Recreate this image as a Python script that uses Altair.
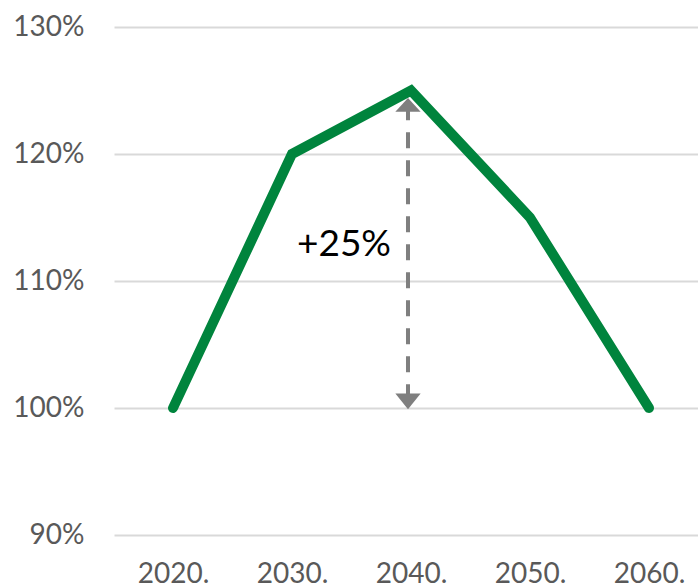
import altair as alt
import pandas as pd

years = [2020, 2030, 2040, 2050, 2060]
values = [100, 120, 125, 115, 100]
y_ticks = [90, 100, 110, 120, 130]

arrow_year = 2040
arrow_low = 99.9
arrow_high = 124.4
label_text = "+25%"
label_value = 112.8

FONT = "Lato"
GRAY = "#7f7f7f"
LABEL_COLOR = "#595959"

line_df = pd.DataFrame({"year": years, "value": values})

x_scale = alt.Scale(domain=[2015.04, 2064.12], nice=False, zero=False)
y_scale = alt.Scale(domain=[90, 130], nice=False, zero=False)

line = alt.Chart(line_df).mark_line(
    color="#00843d", strokeWidth=10, strokeCap="round", strokeJoin="miter"
).encode(
    x=alt.X("year:Q", scale=x_scale,
            axis=alt.Axis(title=None, domain=False, ticks=False, grid=False,
                          values=years, labelExpr="datum.value + '.'",
                          labelFont=FONT, labelFontSize=28, labelColor=LABEL_COLOR,
                          labelPadding=25, labelFlush=False, labelOverlap=False)),
    y=alt.Y("value:Q", scale=y_scale,
            axis=alt.Axis(title=None, domain=False, ticks=False, values=y_ticks,
                          labelExpr="datum.value + '%'",
                          labelFont=FONT, labelFontSize=28, labelColor=LABEL_COLOR,
                          labelPadding=30, gridColor="#d9d9d9", gridWidth=2)),
)

arrow_df = pd.DataFrame({"year": [arrow_year], "low": [arrow_low], "high": [arrow_high]})

shaft = alt.Chart(arrow_df).mark_rule(
    color=GRAY, strokeWidth=4, strokeDash=[16, 12], strokeDashOffset=19, xOffset=-3
).encode(
    x=alt.X("year:Q", scale=x_scale),
    y=alt.Y("low:Q", scale=y_scale),
    y2="high:Q",
)

head_up = alt.Chart(arrow_df).mark_point(
    shape="M0,0 L-1,1.08 L1,1.08 Z", size=640, filled=True, color=GRAY, opacity=1, xOffset=-3
).encode(
    x=alt.X("year:Q", scale=x_scale),
    y=alt.Y("high:Q", scale=y_scale),
)

head_down = alt.Chart(arrow_df).mark_point(
    shape="M0,0 L-1,-1.25 L1,-1.25 Z", size=640, filled=True, color=GRAY, opacity=1, xOffset=-3
).encode(
    x=alt.X("year:Q", scale=x_scale),
    y=alt.Y("low:Q", scale=y_scale),
)

label_df = pd.DataFrame({"year": [arrow_year], "value": [label_value], "text": [label_text]})
label = alt.Chart(label_df).mark_text(
    font=FONT, fontSize=37, color="#000000", align="center", baseline="middle", xOffset=-67
).encode(
    x=alt.X("year:Q", scale=x_scale),
    y=alt.Y("value:Q", scale=y_scale),
    text="text:N",
)

chart = alt.layer(line, shaft, head_up, head_down, label).properties(
    width=584, height=508,
    background="white",
    autosize=alt.AutoSizeParams(type="none"),
    padding={"left": 114, "top": 27, "right": 0, "bottom": 53},
).configure_view(strokeWidth=0).configure_axisX(grid=False, domain=False, ticks=False).configure_axisY(domain=False, ticks=False)

chart.save("out.html", embed_options={"renderer": "svg", "actions": False})
